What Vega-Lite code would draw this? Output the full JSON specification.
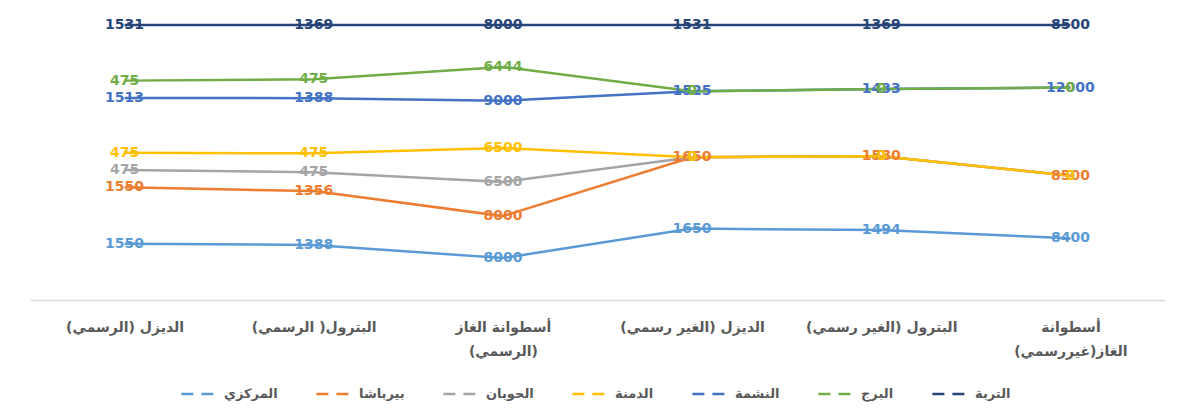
{
  "$schema": "https://vega.github.io/schema/vega-lite/v6.json",
  "width": 1135,
  "height": 275,
  "autosize": {"type": "none"},
  "padding": {"left": 30, "right": 20, "top": 25, "bottom": 120},
  "background": "white",
  "config": {
    "view": {"stroke": null},
    "font": "DejaVu Sans"
  },
  "data": {
    "values": [
      {"cat": "الديزل (الرسمي)", "series": "المركزي", "value": 1550},
      {"cat": "الديزل (الرسمي)", "series": "بيرباشا", "value": 1550},
      {"cat": "الديزل (الرسمي)", "series": "الحوبان", "value": 475},
      {"cat": "الديزل (الرسمي)", "series": "الدمنة", "value": 475},
      {"cat": "الديزل (الرسمي)", "series": "النشمة", "value": 1513},
      {"cat": "الديزل (الرسمي)", "series": "البرج", "value": 475},
      {"cat": "الديزل (الرسمي)", "series": "التربة", "value": 1531},
      {"cat": "البترول( الرسمي)", "series": "المركزي", "value": 1388},
      {"cat": "البترول( الرسمي)", "series": "بيرباشا", "value": 1356},
      {"cat": "البترول( الرسمي)", "series": "الحوبان", "value": 475},
      {"cat": "البترول( الرسمي)", "series": "الدمنة", "value": 475},
      {"cat": "البترول( الرسمي)", "series": "النشمة", "value": 1388},
      {"cat": "البترول( الرسمي)", "series": "البرج", "value": 475},
      {"cat": "البترول( الرسمي)", "series": "التربة", "value": 1369},
      {"cat": "أسطوانة الغاز (الرسمي)", "series": "المركزي", "value": 8000},
      {"cat": "أسطوانة الغاز (الرسمي)", "series": "بيرباشا", "value": 8000},
      {"cat": "أسطوانة الغاز (الرسمي)", "series": "الحوبان", "value": 6500},
      {"cat": "أسطوانة الغاز (الرسمي)", "series": "الدمنة", "value": 6500},
      {"cat": "أسطوانة الغاز (الرسمي)", "series": "النشمة", "value": 9000},
      {"cat": "أسطوانة الغاز (الرسمي)", "series": "البرج", "value": 6444},
      {"cat": "أسطوانة الغاز (الرسمي)", "series": "التربة", "value": 8000},
      {"cat": "الديزل (الغير رسمي)", "series": "المركزي", "value": 1650},
      {"cat": "الديزل (الغير رسمي)", "series": "بيرباشا", "value": 1650},
      {"cat": "الديزل (الغير رسمي)", "series": "الحوبان", "value": 0},
      {"cat": "الديزل (الغير رسمي)", "series": "الدمنة", "value": 0},
      {"cat": "الديزل (الغير رسمي)", "series": "النشمة", "value": 1525},
      {"cat": "الديزل (الغير رسمي)", "series": "البرج", "value": 0},
      {"cat": "الديزل (الغير رسمي)", "series": "التربة", "value": 1531},
      {"cat": "البترول (الغير رسمي)", "series": "المركزي", "value": 1494},
      {"cat": "البترول (الغير رسمي)", "series": "بيرباشا", "value": 1580},
      {"cat": "البترول (الغير رسمي)", "series": "الحوبان", "value": 0},
      {"cat": "البترول (الغير رسمي)", "series": "الدمنة", "value": 0},
      {"cat": "البترول (الغير رسمي)", "series": "النشمة", "value": 1433},
      {"cat": "البترول (الغير رسمي)", "series": "البرج", "value": 0},
      {"cat": "البترول (الغير رسمي)", "series": "التربة", "value": 1369},
      {"cat": "أسطوانة الغاز(غيررسمي)", "series": "المركزي", "value": 8400},
      {"cat": "أسطوانة الغاز(غيررسمي)", "series": "بيرباشا", "value": 8500},
      {"cat": "أسطوانة الغاز(غيررسمي)", "series": "الحوبان", "value": 0},
      {"cat": "أسطوانة الغاز(غيررسمي)", "series": "الدمنة", "value": 0},
      {"cat": "أسطوانة الغاز(غيررسمي)", "series": "النشمة", "value": 12000},
      {"cat": "أسطوانة الغاز(غيررسمي)", "series": "البرج", "value": 0},
      {"cat": "أسطوانة الغاز(غيررسمي)", "series": "التربة", "value": 8500}
    ]
  },
  "transform": [
    {"stack": "value", "groupby": ["cat"], "offset": "normalize", "as": ["y0", "y1"]}
  ],
  "encoding": {
    "x": {
      "field": "cat",
      "type": "ordinal",
      "sort": ["الديزل (الرسمي)", "البترول( الرسمي)", "أسطوانة الغاز (الرسمي)", "الديزل (الغير رسمي)", "البترول (الغير رسمي)", "أسطوانة الغاز(غيررسمي)"],
      "scale": {"type": "point", "padding": 0.5},
      "axis": {
        "title": null,
        "labelAngle": 0,
        "ticks": false,
        "grid": false,
        "domainColor": "#D9D9D9",
        "domainWidth": 1.5,
        "labelColor": "#595959",
        "labelFont": "DejaVu Sans",
        "labelFontWeight": "bold",
        "labelFontSize": 14,
        "labelPadding": 20,
        "labelLineHeight": 24,
        "labelLimit": 260,
        "labelExpr": "datum.value == 'أسطوانة الغاز (الرسمي)' ? ['أسطوانة الغاز', '(الرسمي)'] : datum.value == 'أسطوانة الغاز(غيررسمي)' ? ['أسطوانة', 'الغاز(غيررسمي)'] : datum.label"
      }
    },
    "y": {
      "field": "y1",
      "type": "quantitative",
      "scale": {"domain": [0, 1], "nice": false, "zero": true},
      "axis": null
    },
    "color": {
      "field": "series",
      "type": "nominal",
      "scale": {
        "domain": ["المركزي", "بيرباشا", "الحوبان", "الدمنة", "النشمة", "البرج", "التربة"],
        "range": ["#5B9BD5", "#ED7D31", "#A5A5A5", "#FFC000", "#4472C4", "#70AD47", "#264478"]
      },
      "legend": {
        "title": null,
        "orient": "none",
        "legendX": 150,
        "legendY": 351,
        "direction": "horizontal",
        "symbolType": "stroke",
        "symbolSize": 1100,
        "symbolStrokeWidth": 2.5,
        "symbolDash": [12, 8],
        "labelFont": "DejaVu Sans",
        "labelFontWeight": "bold",
        "labelFontSize": 13,
        "labelColor": "#595959",
        "labelOffset": 8,
        "columnPadding": 33
      }
    }
  },
  "layer": [
    {"mark": {"type": "line", "strokeWidth": 2.5}},
    {
      "mark": {"type": "text", "fontWeight": "bold", "fontSize": 14, "align": "center", "baseline": "middle"},
      "encoding": {"text": {"field": "value", "type": "quantitative", "format": "d"}}
    }
  ]
}
